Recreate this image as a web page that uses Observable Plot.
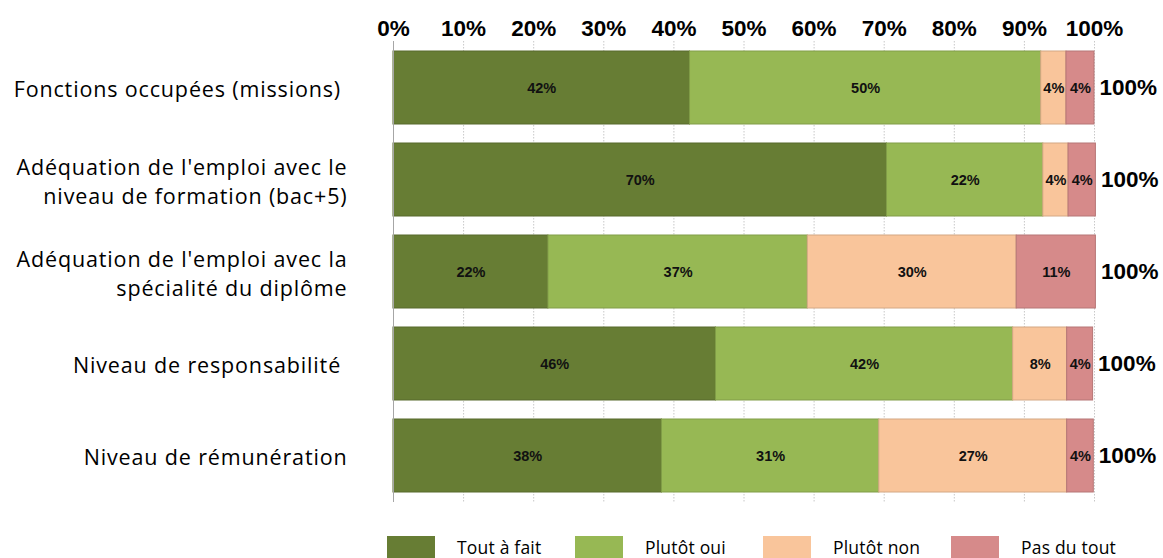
<!DOCTYPE html>
<html>
<head>
<meta charset="utf-8">
<script src="https://cdn.jsdelivr.net/npm/d3@7"></script>
<script src="https://cdn.jsdelivr.net/npm/@observablehq/plot@0.6"></script>
<style>
  html, body { margin: 0; padding: 0; background: #fff; }
  #chart svg { display: block; }
  #chart g[aria-label="y-axis tick label"] { letter-spacing: 0.85px; }
  #legend { display: flex; margin-left: 387px; margin-top: 2px; height: 22px; }
  .item { display: flex; align-items: center; width: 188px; }
  .sw { width: 48px; height: 22px; margin-right: 22px; }
  .lab { font-family: "Open Sans", sans-serif; font-size: 17.5px; color: #000; letter-spacing: 0.2px; }
</style>
</head>
<body>
<div id="chart"></div>
<div id="legend"></div>
<script>
const categories = [
  "Fonctions occupées (missions)\u00a0",
  "Adéquation de l'emploi avec le\nniveau de formation (bac+5)",
  "Adéquation de l'emploi avec la\nspécialité du diplôme",
  "Niveau de responsabilité\u00a0",
  "Niveau de rémunération"
];
const responses = ["Tout à fait", "Plutôt oui", "Plutôt non", "Pas du tout"];
const toutAFait = [42.3, 70.4, 22.1, 46.0, 38.3];
const plutotOui = [50.1, 22.3, 37.0, 42.4, 31.0];
const plutotNon = [3.6, 3.6, 29.8, 7.7, 26.8];
const pasDuTout = [4.0, 3.9, 11.3, 3.7, 3.8];
const colors = ["#677d34", "#97b854", "#f9c59b", "#d68a8a"];
const xTicks = [0, 10, 20, 30, 40, 50, 60, 70, 80, 90, 100];

const series = [toutAFait, plutotOui, plutotNon, pasDuTout];
const data = [];
categories.forEach((c, i) => {
  series.forEach((s, j) => data.push({cat: c, resp: responses[j], value: s[i], label: Math.round(s[i])}));
});
const totals = categories.map((c, i) => ({
  cat: c,
  value: series.reduce((a, s) => a + s[i], 0),
  label: series.reduce((a, s) => a + Math.round(s[i]), 0) + "%"
}));

const strokeOf = d3.scaleOrdinal(responses, colors.map(c => d3.color(c).darker(0.45).formatHex()));

const chart = Plot.plot({
  width: 1163,
  height: 534,
  marginLeft: 393,
  marginRight: 69,
  marginTop: 41,
  marginBottom: 32,
  style: {fontFamily: "Liberation Sans, Arial, sans-serif", background: "#fff"},
  x: {domain: [0, 100], axis: null},
  y: {domain: categories, paddingInner: 0.21, paddingOuter: 0.105, axis: null},
  color: {domain: responses, range: colors},
  marks: [
    Plot.gridX(xTicks, {stroke: "#c8c8c8", strokeOpacity: 1, strokeDasharray: "1.5,1.5"}),
    Plot.barX(data, Plot.stackX({x: "value", y: "cat", fill: "resp", stroke: d => strokeOf(d.resp), strokeWidth: 1, order: responses})),
    Plot.ruleX([0], {stroke: "#a6a6a6", strokeWidth: 1}),
    Plot.text(data, Plot.stackX({x: "value", y: "cat", z: "resp", order: responses, text: d => d.label + "%", fontSize: 14.5, fontWeight: "bold", fill: "#111"})),
    Plot.text(totals, {x: "value", y: "cat", text: "label", dx: 5, textAnchor: "start", fontSize: 22.5, fontWeight: "bold", fill: "#000"}),
    Plot.axisX(xTicks, {anchor: "top", tickSize: 0, tickPadding: 6, tickFormat: d => d + "%", fontSize: 22.5, fontWeight: "bold", fill: "#000", label: null}),
    Plot.axisY({anchor: "left", tickSize: 0, tickPadding: 46, fontSize: 21.5, fontFamily: "Open Sans, sans-serif", lineHeight: 1.37, fill: "#000", label: null})
  ]
});
document.getElementById("chart").appendChild(chart);

const legend = document.getElementById("legend");
responses.forEach((r, i) => {
  const it = document.createElement("div");
  it.className = "item";
  it.innerHTML = `<div class="sw" style="background:${colors[i]}"></div><span class="lab">${r}</span>`;
  legend.appendChild(it);
});
</script>
</body>
</html>
